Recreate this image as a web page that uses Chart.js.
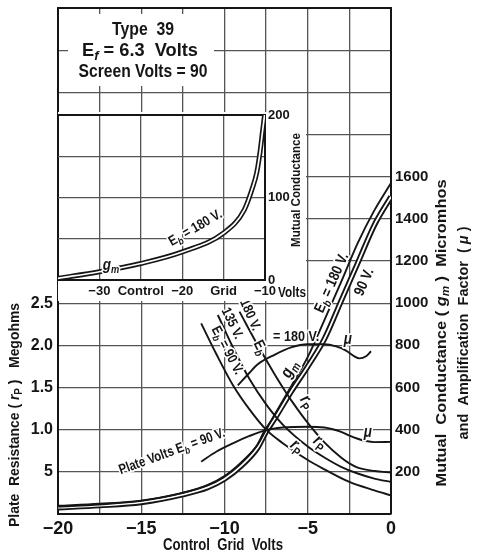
<!DOCTYPE html>
<html>
<head>
<meta charset="utf-8">
<script src="https://cdn.jsdelivr.net/npm/chart.js@4.4.1/dist/chart.umd.min.js"></script>
<style>
  html, body { margin: 0; padding: 0; background: #fff; }
  #wrap { position: relative; width: 477px; height: 554px; }
  #main { position: absolute; left: 0; top: 0; }
  #inset { position: absolute; left: 56px; top: 105px; }
</style>
</head>
<body>
<div id="wrap">
  <canvas id="main" width="477" height="554"></canvas>
  <canvas id="inset" width="250" height="200"></canvas>
</div>
<script>
// ---- data ----
// mutual conductance (micromhos) vs control grid volts
const GM_V   = [-20, -17.5, -15, -12.5, -11, -10, -9, -8, -7.5, -7, -6, -5, -4, -3, -2, -1, 0];
const GM_180 = [35, 45, 62, 100, 138, 180, 245, 330, 400, 470, 605, 745, 920, 1100, 1285, 1440, 1570];
const GM_90  = [30, 40, 55, 92, 126, 166, 228, 315, 390, 450, 580, 700, 830, 1010, 1190, 1370, 1505];

// plate resistance (megohms)
const RP_90_V  = [-11.4, -10.5, -9.5, -8.5, -7.5, -6.5, -5, -4, -2.5, -1, 0];
const RP_90    = [2.26, 1.9, 1.53, 1.24, 1.0, 0.84, 0.64, 0.53, 0.38, 0.28, 0.22];
const RP_135_V = [-10.4, -9.5, -8.5, -7.5, -6.5, -5, -4, -3, -2, -1, 0];
const RP_135   = [2.36, 1.98, 1.6, 1.3, 1.06, 0.8, 0.67, 0.56, 0.48, 0.42, 0.38];
const RP_180_V = [-9.1, -8, -7, -6.5, -6, -5, -4, -3, -2.5, -2, -1, 0];
const RP_180   = [2.40, 2.0, 1.66, 1.5, 1.35, 1.08, 0.85, 0.67, 0.6, 0.55, 0.51, 0.49];

// amplification factor (same right scale)
const MU_180_V = [-9.2, -8.5, -8, -7, -6, -5, -4, -3.3, -2.7, -2.2, -1.9, -1.5, -1.2];
const MU_180   = [610, 670, 710, 755, 790, 805, 805, 795, 775, 748, 738, 748, 772];
const MU_90_V  = [-11.4, -10.5, -9.5, -8.5, -7.5, -6.5, -5, -4, -3.5, -3, -2.5, -2, -1.5, -1, 0];
const MU_90    = [248, 295, 335, 370, 398, 410, 414, 410, 402, 390, 372, 357, 346, 341, 342];

// inset: gm at Eb = 180 V, far negative grid
const INSET_V  = [-35, -30, -25, -20, -15, -12.5, -11.5, -11, -10.6, -10.3, -10.05];
const INSET_GM = [2, 10, 20, 34, 57, 85, 112, 130, 155, 180, 200];

const FONT = "'Liberation Sans', Arial, sans-serif";
const INK = '#151515';
const GRID = '#555';
const SQUEEZE = 0.84;

function pts(xs, ys) { return xs.map((x, i) => ({ x: x, y: ys[i] })); }

function fontFor(style, size) {
  const sub = style.indexOf('s') >= 0;
  const it = style.indexOf('i') >= 0;
  return (it ? 'italic ' : '') + 'bold ' + Math.round(sub ? size * 0.7 : size) + 'px ' + FONT;
}

// parts: [[text, style]], style: '' normal, 'i' italic, 's' subscript
function rich(ctx, parts, x, y, angle, size, halo, fitW) {
  ctx.save();
  ctx.translate(x, y);
  ctx.rotate(angle * Math.PI / 180);
  ctx.textBaseline = 'middle';
  ctx.textAlign = 'left';
  const w = parts.map(p => { ctx.font = fontFor(p[1] || '', size); return ctx.measureText(p[0]).width; });
  const total = w.reduce((a, b) => a + b, 0);
  ctx.scale(fitW ? fitW / total : SQUEEZE, 1);
  const passes = halo ? ['stroke', 'fill'] : ['fill'];
  passes.forEach(pass => {
    let cx = -total / 2;
    parts.forEach((p, i) => {
      const st = p[1] || '';
      ctx.font = fontFor(st, size);
      const dy = st.indexOf('s') >= 0 ? size * 0.32 : 0;
      if (pass === 'stroke') {
        ctx.strokeStyle = '#fff'; ctx.lineWidth = 3.5; ctx.lineJoin = 'round';
        ctx.strokeText(p[0], cx, dy);
      } else {
        ctx.fillStyle = INK;
        ctx.fillText(p[0], cx, dy);
      }
      cx += w[i];
    });
  });
  ctx.restore();
}

function noPad(s) { s.paddingTop = 0; s.paddingBottom = 0; s.paddingLeft = 0; s.paddingRight = 0; }

const mainLabels = {
  id: 'mainLabels',
  beforeDatasetsDraw(chart) {
    const ctx = chart.ctx;
    ctx.save();
    ctx.fillStyle = '#fff';
    ctx.fillRect(68, 14, 146, 72);
    ctx.restore();
  },
  afterDatasetsDraw(chart) {
    const ctx = chart.ctx;
    const sx = chart.scales.x, sr = chart.scales.yR, sg = chart.scales.yG;
    const X = v => sx.getPixelForValue(v);
    const R = v => sr.getPixelForValue(v);
    const G = v => sg.getPixelForValue(v);

    // header
    rich(ctx, [['Type  39', '']], 143, 30, 0, 18, false, 62);
    rich(ctx, [['E', ''], ['f', 'is'], [' = 6.3  Volts', '']], 140, 51, 0, 18, false, 116);
    rich(ctx, [['Screen Volts = 90', '']], 143, 72, 0, 18, false, 129);

    // gm labels
    rich(ctx, [['E', ''], ['b', 'is'], [' = 180 V.', '']], X(-3.55), G(1096), -66, 15, true);
    rich(ctx, [['90 V.', '']], X(-1.6), G(1100), -66, 15, true);
    rich(ctx, [['g', 'i'], ['m', 'is']], X(-6.1), G(688), -62, 17, true);

    // rp labels
    rich(ctx, [['E', ''], ['b', 'is'], [' = 90 V.', '']], X(-9.85), R(1.94), 62, 14, true);
    rich(ctx, [['135 V.', '']], X(-9.55), R(2.26), 64, 14, true);
    rich(ctx, [['180 V.', '']], X(-8.47), R(2.36), 66, 14, true);
    rich(ctx, [['r', 'i'], ['P', 's']], X(-5.05), R(1.33), 55, 17, true);
    rich(ctx, [['r', 'i'], ['P', 's']], X(-4.26), R(0.85), 38, 17, true);
    rich(ctx, [['r', 'i'], ['P', 's']], X(-5.65), R(0.80), 38, 17, true);

    // mu labels
    rich(ctx, [['E', ''], ['b', 'is']], X(-7.85), G(790), 62, 15, true);
    rich(ctx, [['= 180 V.', '']], X(-5.7), G(842), 0, 15, true);
    rich(ctx, [['\u03bc', 'i']], X(-2.6), G(825), 0, 16, true);
    rich(ctx, [['\u03bc', 'i']], X(-1.4), G(384), 0, 16, true);
    rich(ctx, [['Plate Volts ', ''], ['E', ''], ['b', 'is'], [' = 90 V.', '']], X(-13.15), G(296), -20, 14, true, 112);

    // axis titles
    rich(ctx, [['Plate  Resistance ', ''], ['(', ''], [' r', 'i'], ['P', 's'], [' )', ''], ['   Megohms', '']], 15, 415, -90, 14, false, 224);
    rich(ctx, [['Mutual  Conductance ', ''], ['( ', ''], ['g', 'i'], ['m', 'is'], [' )', ''], ['  Micromhos', '']], 442, 333, -90, 14, false, 307);
    rich(ctx, [['and  Amplification  Factor  ', ''], ['( ', ''], ['\u03bc', 'i'], [' )', '']], 464, 333, -90, 14, false, 213);
    rich(ctx, [['Control  Grid  Volts', '']], 223, 546, 0, 16, false, 120);
  }
};

const insetLabels = {
  id: 'insetLabels',
  beforeDraw(chart) {
    const ctx = chart.ctx;
    ctx.save();
    ctx.fillStyle = '#fff';
    ctx.fillRect(2, 7, 248, 189);
    ctx.restore();
  },
  afterDatasetsDraw(chart) {
    const ctx = chart.ctx;
    const X = v => chart.scales.x.getPixelForValue(v);
    const Y = v => chart.scales.y.getPixelForValue(v);
    rich(ctx, [['g', 'i'], ['m', 'is']], X(-28.6), Y(18), 0, 16, true);
    rich(ctx, [['E', ''], ['b', 'is'], [' = 180 V.', '']], X(-18.4), Y(63), -30, 14, true);
    rich(ctx, [['Volts', '']], 236, 188, 0, 14, false);
    rich(ctx, [['Mutual Conductance', '']], 241, 85, -90, 12, false, 114);
  }
};

const tickFont = size => ({ family: FONT, size: size, weight: 'bold' });

new Chart(document.getElementById('main'), {
  type: 'line',
  data: {
    datasets: [
      { data: pts(RP_90_V, RP_90), yAxisID: 'yR', order: -1 },
      { data: pts(RP_135_V, RP_135), yAxisID: 'yR', order: -1 },
      { data: pts(RP_180_V, RP_180), yAxisID: 'yR', order: -1 },
      { data: pts(MU_180_V, MU_180), yAxisID: 'yG', order: -1 },
      { data: pts(MU_90_V, MU_90), yAxisID: 'yG', order: -1 },
      { data: pts(GM_V, GM_180), yAxisID: 'yG', order: 0 },
      { data: pts(GM_V, GM_90), yAxisID: 'yG', borderColor: '#fff', borderWidth: 1.8, order: 1 },
      { data: pts(GM_V, GM_90), yAxisID: 'yG', borderWidth: 5.6, order: 2 }
    ]
  },
  options: {
    responsive: false,
    animation: false,
    devicePixelRatio: 1,
    layout: { padding: { top: 8, left: 0, right: 0, bottom: 0 } },
    plugins: { legend: { display: false }, tooltip: { enabled: false } },
    elements: {
      point: { radius: 0 },
      line: { borderColor: INK, borderWidth: 1.9, cubicInterpolationMode: 'monotone', fill: false }
    },
    scales: {
      x: {
        type: 'linear', min: -20, max: 0,
        ticks: {
          stepSize: 2.5, autoSkip: false, maxRotation: 0, padding: 4, color: INK, font: tickFont(18),
          callback: v => (v % 5 === 0 ? (v < 0 ? '\u2212' + Math.abs(v) : '0') : '')
        },
        grid: { color: GRID, lineWidth: 1.3, drawTicks: false },
        border: { color: INK, width: 2 },
        afterFit: s => { s.height = 40; noPad(s); }
      },
      yR: {
        type: 'linear', position: 'left', min: 0, max: 6,
        ticks: {
          stepSize: 0.5, autoSkip: false, padding: 5, color: INK, font: tickFont(16),
          callback: v => (v >= 0.5 && v <= 2.5 ? (v === 0.5 ? '5' : v.toFixed(1)) : '')
        },
        grid: { display: false, drawTicks: false },
        border: { color: INK, width: 2 },
        afterFit: s => { s.width = 58; noPad(s); }
      },
      yG: {
        type: 'linear', position: 'right', min: 0, max: 2400,
        ticks: {
          stepSize: 200, autoSkip: false, padding: 4, color: INK, font: tickFont(15),
          callback: v => (v >= 200 && v <= 1600 ? String(v) : '')
        },
        grid: {
          color: ctx => (ctx.tick && ctx.tick.value === 2400 ? INK : GRID),
          lineWidth: ctx => (ctx.tick && ctx.tick.value === 2400 ? 2 : 1.3),
          drawTicks: false
        },
        border: { color: INK, width: 2 },
        afterFit: s => { s.width = 86; noPad(s); }
      }
    }
  },
  plugins: [mainLabels]
});

const insetTicks = { '-30': '\u221230', '-25': 'Control', '-20': '\u221220', '-15': 'Grid', '-10': '\u221210' };

new Chart(document.getElementById('inset'), {
  type: 'line',
  data: {
    datasets: [
      { data: pts(INSET_V, INSET_GM), borderColor: '#fff', borderWidth: 1.7, order: 0 },
      { data: pts(INSET_V, INSET_GM), borderWidth: 5, order: 1 }
    ]
  },
  options: {
    responsive: false,
    animation: false,
    devicePixelRatio: 1,
    layout: { padding: { top: 10, left: 2, right: 0, bottom: 0 } },
    plugins: { legend: { display: false }, tooltip: { enabled: false } },
    elements: {
      point: { radius: 0 },
      line: { borderColor: INK, borderWidth: 1.9, cubicInterpolationMode: 'monotone', fill: false }
    },
    scales: {
      x: {
        type: 'linear', min: -35, max: -10,
        ticks: {
          stepSize: 5, autoSkip: false, maxRotation: 0, padding: 4, color: INK, font: tickFont(13),
          callback: v => insetTicks[String(v)] || ''
        },
        grid: {
          color: ctx => (ctx.tick && ctx.tick.value === -35 ? INK : GRID),
          lineWidth: ctx => (ctx.tick && ctx.tick.value === -35 ? 2 : 1.3),
          drawTicks: false
        },
        border: { color: INK, width: 2 },
        afterFit: s => { s.height = 25; noPad(s); }
      },
      y: {
        type: 'linear', position: 'right', min: 0, max: 200,
        ticks: {
          stepSize: 50, autoSkip: false, padding: 3, color: INK, font: tickFont(13),
          callback: v => (v % 100 === 0 ? String(v) : '')
        },
        grid: {
          color: ctx => (ctx.tick && ctx.tick.value === 200 ? INK : GRID),
          lineWidth: ctx => (ctx.tick && ctx.tick.value === 200 ? 2 : 1.3),
          drawTicks: false
        },
        border: { color: INK, width: 2 },
        afterFit: s => { s.width = 41; noPad(s); }
      }
    }
  },
  plugins: [insetLabels]
});
</script>
</body>
</html>
